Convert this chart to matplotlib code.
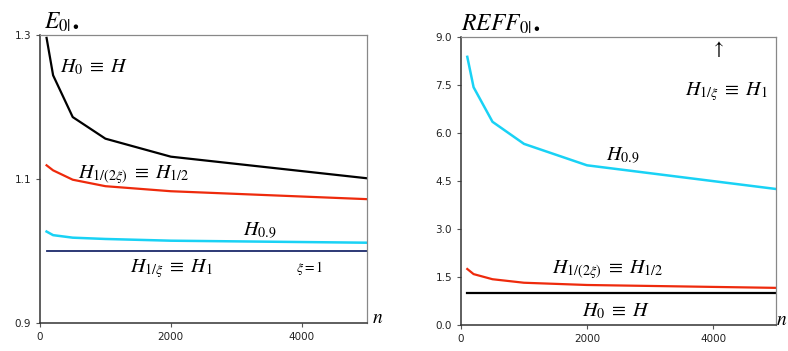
import matplotlib
matplotlib.use("Agg")
import matplotlib.pyplot as plt

plt.rcParams['mathtext.fontset'] = 'stix'
plt.rcParams['font.family'] = ['DejaVu Sans']

# Data
n = [100, 200, 500, 1000, 2000, 5000]
e_H0 = [1.296, 1.244, 1.186, 1.156, 1.131, 1.101]
e_H12 = [1.119, 1.112, 1.099, 1.090, 1.083, 1.072]
e_H09 = [1.027, 1.022, 1.0185, 1.0167, 1.0143, 1.0115]
e_H1 = [1.0, 1.0, 1.0, 1.0, 1.0, 1.0]

r_H09 = [8.39, 7.44, 6.36, 5.67, 5.00, 4.26]
r_H12 = [1.76, 1.60, 1.44, 1.33, 1.26, 1.17]
r_H0 = [1.0, 1.0, 1.0, 1.0, 1.0, 1.0]

left_yticks = [0.9, 1.1, 1.3]
left_yticklabels = ["0.9", "1.1", "1.3"]
right_yticks = [0.0, 1.5, 3.0, 4.5, 6.0, 7.5, 9.0]
right_yticklabels = ["0.0", "1.5", "3.0", "4.5", "6.0", "7.5", "9.0"]
xticks = [0, 2000, 4000]
xticklabels = ["0", "2000", "4000"]

BLACK = "#000000"
RED = "#ee2a0c"
CYAN = "#19d2f5"
NAVY = "#1b2a6b"

FS = 14.5
EQ = r"\;\equiv\;"

fig = plt.figure(figsize=(7.88, 3.51), dpi=100)
ax1 = fig.add_axes([0.0508, 0.0798, 0.4149, 0.8205])
ax2 = fig.add_axes([0.585, 0.0732, 0.3998, 0.8205])

def style(ax):
    for s in ["top", "right"]:
        ax.spines[s].set_color("#888888")
        ax.spines[s].set_linewidth(0.9)
    for s in ["left", "bottom"]:
        ax.spines[s].set_color("#333333")
        ax.spines[s].set_linewidth(1.1)
    ax.tick_params(axis="both", direction="out", length=3, width=0.8,
                   color="#555555", labelsize=7.5, labelcolor="#222222")
    ax.tick_params(top=False, right=False)
    ax.set_xlim(0, 5000)
    ax.set_xticks(xticks)
    ax.set_xticklabels(xticklabels)

style(ax1)
style(ax2)

# Left panel
ax1.plot(n, e_H0, color=BLACK, lw=1.6)
ax1.plot(n, e_H12, color=RED, lw=1.6)
ax1.plot(n, e_H09, color=CYAN, lw=1.8)
ax1.plot(n, e_H1, color=NAVY, lw=1.3)
ax1.set_ylim(0.9, 1.3)
ax1.set_yticks(left_yticks)
ax1.set_yticklabels(left_yticklabels)

ax1.text(0.012, 1.005, r"$E_{0|\bullet}$", transform=ax1.transAxes, fontsize=17,
         ha="left", va="bottom")
ax1.text(0.06, 0.89, r"$H_0" + EQ + r"H$", transform=ax1.transAxes, fontsize=FS,
         ha="left", va="center")
ax1.text(0.115, 0.515, r"$H_{1/(2\xi)}" + EQ + r"H_{1/2}$", transform=ax1.transAxes,
         fontsize=FS, ha="left", va="center")
ax1.text(0.62, 0.32, r"$H_{0.9}$", transform=ax1.transAxes, fontsize=FS,
         ha="left", va="center")
ax1.text(0.275, 0.19, r"$H_{1/\xi}" + EQ + r"H_1$", transform=ax1.transAxes,
         fontsize=FS, ha="left", va="center")
ax1.text(0.783, 0.19, r"$\xi = 1$", transform=ax1.transAxes, fontsize=10,
         ha="left", va="center")
ax1.text(1.015, 0.02, r"$n$", transform=ax1.transAxes, fontsize=14,
         ha="left", va="center")

# Right panel
ax2.plot(n, r_H09, color=CYAN, lw=1.8)
ax2.plot(n, r_H12, color=RED, lw=1.6)
ax2.plot(n, r_H0, color=BLACK, lw=1.6)
ax2.set_ylim(0.0, 9.0)
ax2.set_yticks(right_yticks)
ax2.set_yticklabels(right_yticklabels)

ax2.text(0.0, 1.005, r"$REFF_{0|\bullet}$", transform=ax2.transAxes, fontsize=17,
         ha="left", va="bottom")
ax2.text(0.815, 0.96, r"$\uparrow$", transform=ax2.transAxes, fontsize=14,
         ha="center", va="center")
ax2.text(0.71, 0.81, r"$H_{1/\xi}" + EQ + r"H_1$", transform=ax2.transAxes,
         fontsize=FS, ha="left", va="center")
ax2.text(0.46, 0.59, r"$H_{0.9}$", transform=ax2.transAxes, fontsize=FS,
         ha="left", va="center")
ax2.text(0.29, 0.195, r"$H_{1/(2\xi)}" + EQ + r"H_{1/2}$", transform=ax2.transAxes,
         fontsize=FS, ha="left", va="center")
ax2.text(0.385, 0.05, r"$H_0" + EQ + r"H$", transform=ax2.transAxes, fontsize=FS,
         ha="left", va="center")
fig.text(0.9995, 0.09, r"$n$", fontsize=14, ha="right", va="center")

fig.savefig("out.png", dpi=100)
